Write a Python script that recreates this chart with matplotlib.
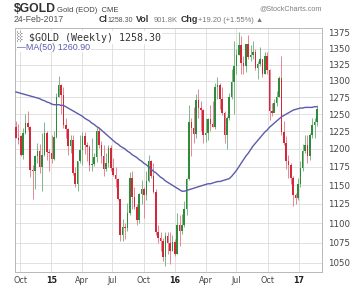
import matplotlib
matplotlib.use("Agg")
import matplotlib.pyplot as plt
import matplotlib.dates as mdates
import matplotlib.ticker as mticker
import numpy as np
import pandas as pd

# weekly $GOLD candles, week ending Friday, 19-Sep-2014 .. 24-Feb-2017
start_week = "2014-09-19"

opens = [
    1231, 1216, 1218, 1192, 1222, 1237, 1232, 1171, 1169, 1190, 1197, 1175, 1191, 1222, 1196,
    1195, 1186, 1217, 1276, 1293, 1279, 1234, 1228, 1204, 1213, 1167, 1152, 1183, 1199, 1219,
    1205, 1203, 1177, 1179, 1189, 1225, 1205, 1190, 1172, 1180, 1201, 1174, 1164, 1158, 1131,
    1085, 1095, 1094, 1113, 1160, 1134, 1121, 1104, 1138, 1145, 1137, 1156, 1183, 1163, 1141,
    1088, 1081, 1077, 1057, 1084, 1075, 1065,
    1076, 1061, 1098, 1090, 1097, 1118, 1158, 1239, 1230, 1221, 1271, 1259, 1256, 1220, 1222,
    1243, 1235, 1232, 1291, 1294, 1272, 1252, 1220, 1244, 1275, 1298, 1323, 1340, 1356, 1328,
    1322, 1357, 1336, 1340, 1344, 1320, 1326, 1333, 1310, 1339, 1317, 1255, 1251, 1266, 1276,
    1304, 1224, 1208, 1183, 1177, 1160, 1137, 1133,
    1152, 1173, 1197, 1205, 1190, 1220, 1234, 1239,
]
highs = [
    1240, 1236, 1220, 1230, 1250, 1255, 1233, 1178, 1192, 1208, 1207, 1222, 1238, 1225, 1200,
    1220, 1225, 1282, 1307, 1295, 1290, 1245, 1230, 1220, 1220, 1175, 1183, 1220, 1224, 1224,
    1210, 1206, 1215, 1195, 1232, 1232, 1211, 1205, 1195, 1205, 1205, 1188, 1175, 1160, 1132,
    1105, 1100, 1126, 1168, 1170, 1147, 1125, 1140, 1157, 1147, 1170, 1191, 1185, 1180, 1145,
    1097, 1089, 1081, 1088, 1088, 1088, 1085,
    1080, 1113, 1111, 1112, 1129, 1160, 1263, 1244, 1261, 1280, 1287, 1270, 1258, 1245, 1245,
    1264, 1270, 1296, 1305, 1296, 1291, 1254, 1247, 1281, 1318, 1362, 1350, 1377, 1370, 1338,
    1358, 1371, 1356, 1362, 1350, 1330, 1353, 1333, 1345, 1345, 1318, 1267, 1272, 1285, 1308,
    1338, 1240, 1218, 1191, 1180, 1163, 1140, 1160,
    1183, 1207, 1220, 1220, 1222, 1245, 1245, 1264,
]
lows = [
    1215, 1207, 1190, 1186, 1221, 1227, 1161, 1131, 1145, 1180, 1167, 1142, 1190, 1185, 1170,
    1180, 1185, 1215, 1275, 1250, 1230, 1215, 1191, 1195, 1164, 1147, 1142, 1180, 1178, 1193,
    1183, 1170, 1170, 1176, 1182, 1202, 1180, 1162, 1170, 1175, 1170, 1162, 1147, 1130, 1077,
    1077, 1080, 1090, 1110, 1118, 1118, 1098, 1100, 1125, 1106, 1130, 1155, 1160, 1139, 1085,
    1075, 1065, 1052, 1046, 1061, 1049, 1064,
    1058, 1061, 1071, 1086, 1095, 1110, 1157, 1190, 1208, 1215, 1245, 1226, 1208, 1210, 1212,
    1226, 1231, 1228, 1272, 1257, 1249, 1208, 1200, 1241, 1272, 1250, 1310, 1340, 1310, 1311,
    1314, 1334, 1330, 1334, 1316, 1302, 1323, 1306, 1310, 1310, 1241, 1247, 1253, 1262, 1275,
    1220, 1205, 1172, 1160, 1152, 1122, 1125, 1130,
    1148, 1170, 1195, 1180, 1185, 1215, 1216, 1233,
]
closes = [
    1216, 1213, 1192, 1222, 1237, 1232, 1171, 1169, 1190, 1197, 1175, 1191, 1222, 1196, 1195,
    1186, 1217, 1276, 1293, 1279, 1234, 1228, 1204, 1213, 1167, 1152, 1183, 1199, 1219, 1205,
    1203, 1177, 1179, 1189, 1225, 1205, 1190, 1172, 1180, 1201, 1174, 1164, 1158, 1131, 1085,
    1095, 1094, 1113, 1160, 1134, 1121, 1104, 1138, 1145, 1137, 1156, 1183, 1163, 1141, 1088,
    1081, 1077, 1057, 1084, 1075, 1065, 1076,
    1061, 1098, 1090, 1097, 1118, 1158, 1239, 1230, 1221, 1271, 1259, 1256, 1220, 1222, 1243,
    1235, 1232, 1291, 1294, 1272, 1252, 1220, 1244, 1275, 1298, 1323, 1340, 1356, 1328, 1322,
    1357, 1336, 1340, 1344, 1320, 1326, 1333, 1310, 1339, 1317, 1255, 1251, 1266, 1276, 1304,
    1224, 1208, 1183, 1177, 1160, 1137, 1133, 1152,
    1173, 1197, 1205, 1190, 1220, 1234, 1239, 1258.3,
]
ma50 = [
    1283, 1282, 1281, 1280, 1279, 1278, 1277, 1276, 1275, 1274, 1273, 1271, 1270, 1268, 1267,
    1265, 1264, 1264, 1264, 1263, 1263, 1261, 1259, 1257, 1255, 1253, 1251, 1249, 1247, 1244,
    1242, 1240, 1237, 1235, 1232, 1230, 1227, 1224, 1221, 1218, 1215, 1212, 1209, 1207, 1204,
    1202, 1200, 1197, 1195, 1192, 1190, 1188, 1185, 1183, 1180, 1178, 1175, 1172, 1169, 1167,
    1164, 1161, 1159, 1156, 1154, 1152, 1150,
    1148, 1146, 1144, 1142, 1142, 1143, 1144, 1145, 1146, 1147, 1148, 1149, 1150, 1151, 1152,
    1152, 1153, 1154, 1155, 1155, 1156, 1157, 1158, 1159, 1162, 1166, 1170, 1175, 1180, 1185,
    1190, 1194, 1199, 1204, 1208, 1212, 1216, 1220, 1224, 1227, 1231, 1234, 1237, 1240, 1243,
    1246, 1248, 1250, 1252, 1254, 1256, 1257, 1258,
    1259, 1259, 1260, 1260, 1260, 1260, 1261, 1260.9,
]

price_ticks = [1050, 1075, 1100, 1125, 1150, 1175, 1200, 1225, 1250, 1275, 1300, 1325, 1350, 1375]
x_tick_dates = ["2014-10-01", "2015-01-01", "2015-04-01", "2015-07-01", "2015-10-01",
                "2016-01-01", "2016-04-01", "2016-07-01", "2016-10-01", "2017-01-01"]
x_tick_labels = ["Oct", "15", "Apr", "Jul", "Oct", "16", "Apr", "Jul", "Oct", "17"]

UP = "#2f8a3c"
DOWN = "#d3283a"
UP_WICK = "#7cb984"
DOWN_WICK = "#e98593"
MA_COL = "#5a5ca8"
GRID = "#dcdcdc"
HDR = "Liberation Sans"

W, H = 364, 287
fig = plt.figure(figsize=(W / 100, H / 100), dpi=100)
ax = fig.add_axes([15 / W, 1 - 272 / H, (322 - 15) / W, (272 - 28) / H])

dates = pd.date_range(start_week, periods=len(closes), freq="W-FRI")
x = mdates.date2num(dates)
o = np.array(opens, dtype=float)
h = np.array(highs, dtype=float)
l = np.array(lows, dtype=float)
c = np.array(closes, dtype=float)
up = c >= o

ax.set_yscale("log")

# wicks
ax.vlines(x[up], l[up], h[up], color=UP_WICK, linewidth=0.7, zorder=2)
ax.vlines(x[~up], l[~up], h[~up], color=DOWN_WICK, linewidth=0.7, zorder=2)
# bodies
body_lo = np.minimum(o, c)
body_hi = np.maximum(o, c)
ax.bar(x[up], body_hi[up] - body_lo[up], bottom=body_lo[up], width=4.6,
       color=UP, linewidth=0, zorder=3)
ax.bar(x[~up], body_hi[~up] - body_lo[~up], bottom=body_lo[~up], width=4.6,
       color=DOWN, linewidth=0, zorder=3)

ax.plot(x, ma50, color=MA_COL, linewidth=1.0, zorder=4)

ax.set_xlim(mdates.date2num(pd.Timestamp("2014-09-16")), mdates.date2num(pd.Timestamp("2017-03-11")))
ax.set_ylim(1038.7, 1383)

ax.yaxis.set_major_locator(mticker.FixedLocator(price_ticks))
ax.yaxis.set_major_formatter(mticker.FixedFormatter([str(p) for p in price_ticks]))
ax.yaxis.set_minor_locator(mticker.NullLocator())
ax.yaxis.tick_right()
ax.tick_params(axis="y", length=0, pad=4, labelsize=6.2, labelcolor="#444444")

xt = mdates.date2num(pd.to_datetime(x_tick_dates))
ax.set_xticks(xt)
ax.set_xticklabels(x_tick_labels)
ax.tick_params(axis="x", length=0, pad=3, labelsize=5.8, labelcolor="#444444")
for lab in ax.get_xticklabels():
    if lab.get_text().isdigit():
        lab.set_fontweight("bold")
        lab.set_color("#222222")

ax.grid(True, color=GRID, linewidth=0.6, zorder=0)
ax.set_axisbelow(True)
for sp in ax.spines.values():
    sp.set_color("#b8b8b8")
    sp.set_linewidth(0.7)


def fx(px):
    return px / W


def fy(py):
    return 1 - py / H


# header
fig.text(fx(14), fy(12.5), "$GOLD", fontsize=8.8, fontweight="bold", color="#333333", family=HDR)
fig.text(fx(57), fy(11.5), "Gold (EOD)  CME", fontsize=5.5, color="#444444", family=HDR)
fig.text(fx(322), fy(10.5), "@StockCharts.com", fontsize=5.2, color="#808080", ha="right", family=HDR)
fig.text(fx(14), fy(22.5), "24-Feb-2017", fontsize=6.3, color="#555555", family=HDR)
fig.text(fx(98.5), fy(22.5), "Cl", fontsize=6.4, fontweight="bold", color="#333333", family=HDR)
fig.text(fx(107.5), fy(22.5), "1258.30", fontsize=5.0, color="#555555", family=HDR)
fig.text(fx(136), fy(22.5), "Vol", fontsize=6.4, fontweight="bold", color="#333333", family=HDR)
fig.text(fx(154), fy(22.5), "901.8K", fontsize=5.4, color="#777777", family=HDR)
fig.text(fx(180.5), fy(22.5), "Chg", fontsize=6.4, fontweight="bold", color="#333333", family=HDR)
fig.text(fx(198.5), fy(22.5), "+19.20 (+1.55%) \u25b2", fontsize=5.4, color="#777777", family=HDR)

# in-chart legend
ax.text(0.007, 0.985, "\u2591 $GOLD (Weekly) 1258.30", transform=ax.transAxes,
        fontsize=7.2, color="#333333", va="top", ha="left", zorder=6, family="DejaVu Sans Mono",
        bbox=dict(facecolor="white", edgecolor="none", pad=0.4))
ax.text(0.007, 0.94, "\u2014MA(50) 1260.90", transform=ax.transAxes,
        fontsize=6.4, color=MA_COL, va="top", ha="left", zorder=6, family=HDR,
        bbox=dict(facecolor="white", edgecolor="none", pad=0.4))

fig.savefig("out.png", dpi=100)
